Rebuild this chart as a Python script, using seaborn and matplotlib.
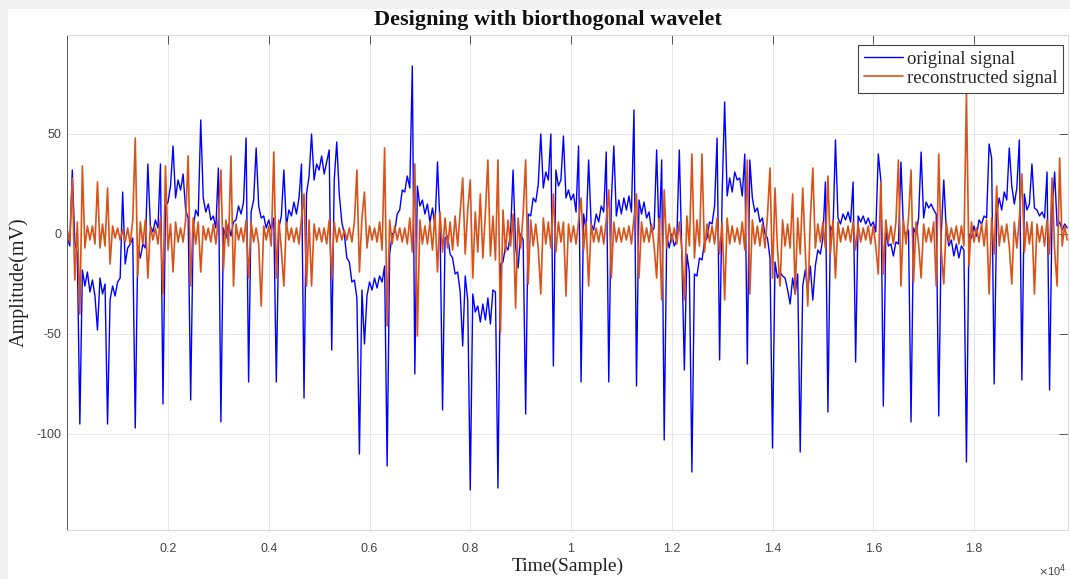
import numpy as np
import pandas as pd
import matplotlib
matplotlib.use("Agg")
import matplotlib.pyplot as plt
from matplotlib.patches import Rectangle
import seaborn as sns

# ---------------- data ----------------
sample_step = 50  # samples between successive readings

orig_mv = [
    -2, -6, 32, -4, -10, -95, -18, -26, -19, -29, -23, -31, -48, -22, -30, -25, -95, -33, -26, -31,
    -24, -22, 21, -15, -7, -5, -2, -97, -6, -12, -5, -7, 35, 4, 1, 7, 3, 35, -85, 14,
    16, 24, 44, 18, 27, 22, 30, 12, 8, -83, 3, 12, 9, 57, 18, 11, 15, 7, 9, 3,
    33, -94, 3, -2, 5, -1, 6, 7, 14, 10, 16, 48, -74, 11, 17, 43, 14, 8, 9, 3,
    7, 2, 8, -74, 3, 9, 32, 4, 12, 9, 16, 10, 18, 35, -82, 20, 29, 50, 27, 35,
    32, 39, 30, 36, 42, -58, 27, 46, 20, 6, 0, -12, -14, -24, -23, -32, -110, -28, -55, -31,
    -24, -28, -22, -27, -21, -24, -16, -116, -10, 0, 1, 10, 12, 22, 21, 29, 23, 84, -70, 24,
    14, 17, 10, 15, 6, 13, 4, 36, 4, -88, -2, -1, -10, -12, -20, -19, -29, -56, -21, -33,
    -128, -30, -39, -36, -44, -35, -43, -32, -45, -28, -29, -127, -15, -14, -6, -8, 0, 32, -6, -17,
    0, -3, -90, 10, 9, 18, 16, 25, 50, 23, 31, 27, 50, -66, 32, 24, 27, 49, 18, 22,
    17, 20, 11, 44, -74, 10, 2, 37, 5, 2, 10, 6, 14, 11, 41, -74, 16, 44, 9, 17,
    10, 18, 12, 19, 11, 62, -76, 17, 10, 16, 8, 11, 1, 3, 42, -4, 37, -103, -1, -7,
    0, -6, -3, 42, -10, -68, -10, -19, -119, -20, -21, -12, -13, -4, -2, 6, 5, 14, 48, -63,
    20, 66, 19, 28, 21, 31, 27, 28, 19, 40, -65, 37, 18, 11, 13, 6, 8, 0, -2, -12,
    -107, -14, -22, -19, -21, -22, -28, -35, -22, -30, -20, -109, -26, -18, -28, -16, -33, -16, -8, -10,
    -2, 26, -89, 4, 1, 47, 8, 5, 10, 7, 11, 6, 26, -64, 9, 6, 9, 5, 8, 4,
    6, 1, 40, 27, -86, 2, -6, -5, -11, -4, -5, 36, 2, 0, 2, -94, 3, 0, 8, 41,
    8, 16, 13, 15, 12, 10, -91, 0, 27, 2, -6, -3, -11, -5, -12, -6, -8, -114, 0, -2,
    4, -1, 7, 5, 9, 8, 45, 38, -75, 10, 18, 12, 21, 17, 43, 24, 15, 23, 47, -73,
    20, 12, 15, 35, 13, 12, 9, 11, 8, 31, -78, 11, 31, 4, 6, 2, 5, 3,
]

recon_mv = [
    2, -4, 28, -23, 6, -40, 34, -7, 4, -3, 4, -5, 26, -7, 5, -6, 23, -15, 4, -2,
    3, -3, 2, -4, 3, -5, 7, 48, -21, 6, -5, 7, -22, 4, -3, 3, -5, 8, -30, 34,
    -8, 5, -19, 6, -4, 3, -4, 7, 39, -26, 8, -5, 6, -19, 4, -3, 3, -4, 5, -5,
    8, 32, -18, 7, -6, 39, -26, 5, -3, 3, -4, 7, -22, 6, -4, 3, -5, -36, 4, -3,
    4, -6, 41, -22, 7, -8, -26, 6, -3, 3, -4, 3, -5, 8, 20, -26, 7, -26, 5, -3,
    3, -4, 3, -5, 7, -22, 6, -4, 3, -3, 2, -3, 3, -4, 6, 32, -19, 8, 21, -7,
    4, -3, 3, -4, 6, -8, 43, -46, 7, -5, 4, -3, 3, -4, 3, -5, 8, -9, 35, -51,
    7, -5, 4, -5, 6, -8, 10, -19, 11, -9, 8, -7, 6, -8, 9, -6, 11, 28, -10, 12,
    27, -22, 11, -9, 20, -12, 10, 37, -11, 9, -13, 37, -49, 12, -9, 7, -6, 10, -37, 8,
    -7, 10, 37, -25, 7, -6, 5, -7, -30, 8, -5, 6, -7, 20, -9, 6, -4, 6, -31, 5,
    -4, 4, -5, 6, 18, -8, 6, -26, 5, -4, 3, -4, 4, -5, 7, 22, -22, 6, -4, 3,
    -4, 3, -3, 4, -5, 8, 20, -22, 6, -4, 3, -4, 5, -6, -22, 8, -33, 22, -7, 5,
    -4, 3, -5, 6, -8, -33, 9, -6, 40, -12, 7, -6, 40, -9, 5, -4, 4, -5, 8, -10,
    6, -33, 8, -5, 4, -4, 3, -5, 6, -8, 37, -30, 7, -5, 4, -6, 5, -7, 9, 33,
    -22, 23, -8, -26, 7, -6, 5, -7, 20, -30, 8, -10, 23, -8, -36, 7, 33, -7, 5, -4,
    6, -7, 29, -10, 7, -22, 6, -4, 3, -3, 4, -4, 6, -8, 5, -4, 3, -3, 4, -5,
    4, -6, -20, 26, -20, 7, -4, 4, -5, 6, 37, -26, 7, -5, 8, 32, -24, 6, -5, -22,
    5, -4, 3, -4, 6, -26, 40, -8, -25, 6, -4, 3, -3, 4, -5, 4, -6, 70, -16, 6,
    -4, 3, -4, 5, -6, 7, -30, 8, -10, 24, -6, 4, -4, 5, -6, -25, 6, -7, 8, 30,
    -9, 6, -5, 6, -30, 5, -4, 4, -6, 7, -10, 28, -8, -26, 38, -6, 4, -3,
]

x_ticks = [2000, 4000, 6000, 8000, 10000, 12000, 14000, 16000, 18000]
x_tick_labels = ["0.2", "0.4", "0.6", "0.8", "1", "1.2", "1.4", "1.6", "1.8"]
y_ticks = [-100, -50, 0, 50]
y_tick_labels = ["-100", "-50", "0", "50"]
series_names = ["original signal", "reconstructed signal"]
title_text = "Designing with biorthogonal wavelet"
x_label = "Time(Sample)"
y_label = "Amplitude(mV)"

# ---------------- build table ----------------
samples = np.arange(len(orig_mv)) * sample_step
df = pd.DataFrame({"sample": samples, "orig": orig_mv, "recon": recon_mv})

# ---------------- style ----------------
sns.set_style("white")
plt.rcParams["font.family"] = ["Liberation Sans", "DejaVu Sans"]
serif = ["Liberation Serif", "DejaVu Serif"]

W, H = 1070, 579
fig = plt.figure(figsize=(W / 100, H / 100), dpi=100, facecolor="#f0f0f0")
fig.patches.append(Rectangle((8 / W, 0), 1, 1 - 9 / H, transform=fig.transFigure,
                             facecolor="white", edgecolor="none", zorder=-5))

ax_l, ax_r, ax_t, ax_b = 67.25, 1068, 35, 530
ax = fig.add_axes([ax_l / W, 1 - ax_b / H, (ax_r - ax_l) / W, (ax_b - ax_t) / H])
ax.set_zorder(2)
ax.set_facecolor("white")

blue = "#0000ff"
orange = "#d95319"
sns.lineplot(data=df, x="sample", y="orig", ax=ax, color=blue, linewidth=1.0,
             estimator=None, sort=False, label=series_names[0])
sns.lineplot(data=df, x="sample", y="recon", ax=ax, color=orange, linewidth=1.2,
             estimator=None, sort=False, label=series_names[1])

ax.set_xlim(0, 19866)
ax.set_ylim(-148, 99.5)

ax.set_xticks(x_ticks)
ax.set_xticklabels(x_tick_labels)
ax.set_yticks(y_ticks)
ax.set_yticklabels(y_tick_labels)
ax.tick_params(direction="in", length=6.5, width=0.7, color="#555555",
               top=True, right=True, labelsize=9, labelcolor="#444444")
ax.tick_params(axis="x", pad=9)
ax.tick_params(axis="y", pad=4)

ax.grid(True, color="#e3e3e3", linewidth=0.6)
ax.set_axisbelow(True)
for side, sp in ax.spines.items():
    sp.set_linewidth(0.7)
    sp.set_color("#d8d8d8")
ax.spines["left"].set_color("#555555")

ax.set_title(title_text, fontfamily=serif, fontweight="bold", fontsize=16,
             pad=7, color="#111111", x=0.48)
ax.set_xlabel(x_label, fontfamily=serif, fontsize=14, color="#222222", labelpad=2)
ax.set_ylabel(y_label, fontfamily=serif, fontsize=14.5, color="#222222", labelpad=6)

fig.text(1066 / W, 1 - 571 / H, r"$\times$10$^{4}$", fontsize=8, color="#444444",
         ha="right", va="center")

leg = ax.legend(loc="upper right", bbox_to_anchor=(0.995, 0.98), borderaxespad=0,
                fancybox=False, frameon=True, framealpha=1, edgecolor="#444444",
                prop={"family": serif, "size": 13.5}, handlelength=2.1,
                handletextpad=0.2, labelspacing=0.12, borderpad=0.3)
leg.get_frame().set_linewidth(0.8)

fig.savefig("out.png", dpi=100, facecolor=fig.get_facecolor())
